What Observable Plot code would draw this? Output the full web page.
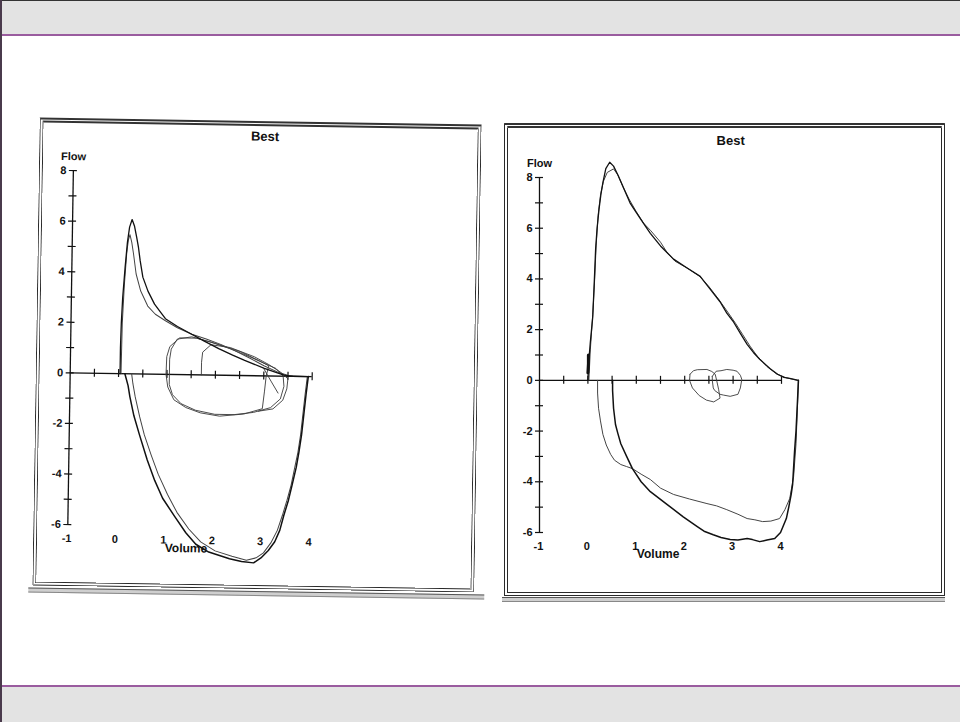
<!DOCTYPE html>
<html>
<head>
<meta charset="utf-8">
<script src="https://cdn.jsdelivr.net/npm/d3@7"></script>
<script src="https://cdn.jsdelivr.net/npm/@observablehq/plot@0.6"></script>
<style>
  html, body { margin: 0; padding: 0; }
  body { width: 960px; height: 722px; position: relative; overflow: hidden; background: #fff; font-family: "Liberation Sans", Arial, sans-serif; }
  .band { position: absolute; left: 0; width: 960px; background: #e3e3e3; box-sizing: border-box; }
  #topband { top: 0; height: 36px; border-top: 1px solid #333; border-bottom: 2px solid #9a5c9f; }
  #botband { top: 685px; height: 37px; border-top: 2px solid #9a5c9f; }
  #leftedge { position: absolute; left: 0; top: 0; width: 2px; height: 722px; background: #4a3a4c; }
  .panel { position: absolute; }
  .frame { position: absolute; box-sizing: border-box; border: 4px double #2a2a2a; border-top: 5px double #333; }
  .shadow { position: absolute; box-sizing: border-box; border-top: 1px solid #555; border-bottom: 1px solid #888; background: #cfcfcf; height: 5px; }
  .panel svg { position: absolute; left: 0; top: 0; }
</style>
</head>
<body>
<div id="topband" class="band"></div>
<div id="botband" class="band"></div>
<div id="leftedge"></div>
<div id="leftPanel" class="panel" style="left:36px;top:121px;width:442px;height:468px;transform:rotate(0.9deg);transform-origin:50% 50%;">
  <div class="frame" style="left:0;top:0;width:442px;height:468px;"></div>
  <div class="shadow" style="left:-4px;top:470px;width:456px;"></div>
</div>
<div id="rightPanel" class="panel" style="left:504px;top:123px;width:441px;height:473px;">
  <div class="frame" style="left:0;top:0;width:441px;height:473px;"></div>
  <div class="shadow" style="left:-2px;top:474px;width:443px;"></div>
</div>
<script>
// ---------- axis definitions ----------
const yTicks = [-6, -5, -4, -3, -2, -1, 0, 1, 2, 3, 4, 5, 6, 7, 8];
const yLabels = [8, 6, 4, 2, 0, -2, -4, -6];
const xTicks = [-0.5, 0, 0.5, 1, 1.5, 2, 2.5, 3, 3.5, 4];
const xLabels = [-1, 0, 1, 2, 3, 4];
const panelTitle = "Best";
const yTitle = "Flow";
const xTitle = "Volume";

// ---------- left panel: [volume, flow] ----------
const leftExpA = [[0.03,0],[0.03,1.0],[0.04,2.0],[0.06,3.0],[0.1,4.2],[0.14,5.2],[0.18,5.8],[0.23,6.1],[0.28,5.85],[0.33,5.4],[0.37,5.0],[0.41,4.47],[0.47,3.83],[0.58,3.28],[0.72,2.77],[0.85,2.45],[0.95,2.2],[1.2,1.9],[1.44,1.66],[1.75,1.35],[2.06,1.05],[2.35,0.8],[2.6,0.6],[3.01,0.3],[3.25,0.15],[3.42,0.04],[3.6,0.0],[3.92,0]];
const leftExpB = [[0.05,0],[0.06,2.0],[0.09,3.5],[0.13,4.8],[0.16,5.3],[0.19,5.5],[0.23,5.2],[0.27,4.74],[0.33,3.95],[0.43,3.28],[0.58,2.69],[0.74,2.37],[0.95,2.12],[1.2,1.85],[1.5,1.6],[1.8,1.42],[2.1,1.22],[2.4,0.97],[2.7,0.7],[3.0,0.4],[3.3,0.15],[3.5,0.03],[3.9,0]];
const leftInspA = [[3.92,0],[3.88,-0.7],[3.84,-1.5],[3.8,-2.3],[3.75,-3.0],[3.7,-3.6],[3.62,-4.3],[3.55,-4.9],[3.46,-5.5],[3.38,-6.1],[3.28,-6.55],[3.15,-6.9],[3.0,-7.2],[2.85,-7.4],[2.6,-7.35],[2.35,-7.25],[1.92,-7.0],[1.65,-6.7],[1.44,-6.25],[1.2,-5.6],[0.95,-4.9],[0.78,-4.2],[0.62,-3.4],[0.45,-2.4],[0.33,-1.66],[0.24,-0.9],[0.2,-0.47],[0.13,0]];
const leftInspB = [[3.9,0],[3.86,-0.7],[3.82,-1.5],[3.78,-2.3],[3.73,-3.0],[3.67,-3.6],[3.6,-4.3],[3.52,-4.9],[3.43,-5.5],[3.33,-6.1],[3.2,-6.6],[3.05,-7.0],[2.9,-7.2],[2.7,-7.3],[2.4,-7.15],[2.05,-6.95],[1.75,-6.6],[1.5,-6.1],[1.25,-5.45],[1.05,-4.75],[0.85,-3.95],[0.7,-3.2],[0.55,-2.4],[0.45,-1.7],[0.35,-0.9],[0.3,-0.4],[0.27,0]];
const leftTidal1 = [[1.05,0],[1.05,0.6],[1.08,1.0],[1.2,1.4],[1.5,1.5],[1.9,1.3],[2.3,1.05],[2.7,0.75],[3.0,0.5],[3.25,0.3],[3.4,0.0],[3.42,-0.4],[3.35,-0.9],[3.15,-1.25],[2.8,-1.45],[2.4,-1.55],[2.0,-1.55],[1.6,-1.4],[1.3,-1.15],[1.12,-0.8],[1.05,-0.4],[1.05,0]];
const leftTidal2 = [[0.98,0],[0.99,0.7],[1.05,1.1],[1.25,1.45],[1.6,1.45],[2.0,1.25],[2.5,0.95],[2.9,0.6],[3.1,0.4],[3.05,0.0],[3.02,-0.6],[2.98,-1.3],[2.6,-1.52],[2.1,-1.62],[1.7,-1.5],[1.4,-1.3],[1.15,-1.0],[1.02,-0.5],[0.98,0]];
const leftTidal3 = [[1.71,0],[1.71,0.5],[1.73,0.9],[1.9,1.2],[2.3,1.1],[2.8,0.75],[3.1,0.45],[3.35,0.15],[3.5,-0.1],[3.48,-0.5],[3.4,-0.95],[3.2,-1.3],[2.9,-1.4]];
const leftTidal4 = [[3.0,0.28],[3.15,-0.2],[3.3,-0.67]];

// ---------- right panel: [volume, flow] ----------
const rightExpA = [[0.0,0],[0.02,0.8],[0.05,1.5],[0.1,2.5],[0.13,3.8],[0.16,5.2],[0.19,6.0],[0.23,6.75],[0.27,7.35],[0.31,7.8],[0.37,8.35],[0.45,8.6],[0.53,8.45],[0.62,8.1],[0.7,7.75],[0.78,7.4],[0.87,7.0],[0.95,6.76],[1.09,6.36],[1.29,5.8],[1.5,5.3],[1.77,4.78],[2.05,4.43],[2.32,4.1],[2.59,3.44],[2.73,3.1],[2.87,2.65],[3.0,2.33],[3.15,1.85],[3.29,1.42],[3.42,1.1],[3.55,0.83],[3.76,0.47],[3.92,0.24],[4.05,0.12],[4.17,0.08],[4.35,0]];
const rightExpB = [[0.02,0],[0.05,1.2],[0.1,2.6],[0.14,4.0],[0.17,5.3],[0.21,6.5],[0.26,7.3],[0.32,7.85],[0.4,8.2],[0.53,8.34],[0.62,8.1],[0.72,7.65],[0.85,7.15],[1.0,6.65],[1.15,6.2],[1.3,5.9],[1.5,5.45],[1.65,5.0],[1.8,4.7],[2.05,4.43],[2.3,4.12],[2.5,3.7],[2.7,3.2],[2.85,2.8],[3.05,2.25],[3.2,1.8],[3.35,1.35],[3.5,0.95],[3.7,0.55],[3.9,0.25],[4.1,0.1],[4.33,0]];
const rightInspA = [[4.35,0],[4.33,-0.83],[4.3,-2.0],[4.27,-2.8],[4.23,-4.1],[4.2,-4.5],[4.15,-5.0],[4.1,-5.45],[3.98,-6.0],[3.86,-6.24],[3.7,-6.3],[3.55,-6.36],[3.4,-6.28],[3.29,-6.24],[3.1,-6.3],[2.94,-6.28],[2.75,-6.2],[2.59,-6.09],[2.4,-5.95],[2.26,-5.77],[1.97,-5.38],[1.64,-4.9],[1.29,-4.39],[1.1,-4.0],[0.92,-3.48],[0.8,-3.0],[0.68,-2.5],[0.62,-2.1],[0.57,-1.74],[0.53,-1.1],[0.51,-0.4],[0.51,0]];
const rightInspB = [[4.35,0],[4.33,-1.0],[4.3,-2.5],[4.25,-3.8],[4.17,-4.66],[4.07,-5.1],[3.96,-5.45],[3.78,-5.55],[3.61,-5.57],[3.45,-5.5],[3.29,-5.45],[3.1,-5.28],[2.87,-5.1],[2.66,-4.95],[2.46,-4.86],[2.1,-4.68],[1.77,-4.5],[1.5,-4.25],[1.29,-3.91],[1.1,-3.7],[0.92,-3.48],[0.8,-3.4],[0.68,-3.32],[0.55,-3.15],[0.47,-2.92],[0.38,-2.55],[0.31,-2.13],[0.26,-1.6],[0.22,-1.1],[0.2,-0.5],[0.2,0]];
const rightTidal1 = [[2.11,0.24],[2.18,0.38],[2.26,0.42],[2.46,0.43],[2.56,0.35],[2.63,0.24],[2.66,0.0],[2.7,-0.35],[2.73,-0.7],[2.6,-0.85],[2.45,-0.78],[2.3,-0.6],[2.16,-0.3],[2.1,0.0],[2.11,0.24]];
const rightTidal2 = [[2.57,0.16],[2.65,0.36],[2.75,0.38],[2.87,0.43],[3.0,0.4],[3.08,0.36],[3.15,0.2],[3.18,0.04],[3.15,-0.3],[3.1,-0.55],[2.94,-0.63],[2.8,-0.58],[2.73,-0.55],[2.62,-0.4],[2.59,-0.3],[2.57,0.0],[2.57,0.16]];
const rightBlob = [[0.0,0.3],[0.01,0.65],[0.01,1.0]];

// ---------- builder ----------
function panel(opts) {
  const L = (data, stroke, sw) => Plot.line(data, {x: d => d[0], y: d => d[1], stroke, strokeWidth: sw, curve: "linear", strokeLinejoin: "round"});
  return Plot.plot({
    width: opts.width, height: opts.height,
    marginLeft: opts.ml, marginRight: opts.mr, marginTop: opts.mt, marginBottom: opts.mb,
    x: {domain: [-1, 4], axis: null},
    y: {domain: [-6, 8], axis: null},
    style: {fontFamily: "'Liberation Sans', Arial, sans-serif", fontSize: "11px", fontWeight: "bold", background: "transparent", overflow: "visible", color: "#111"},
    marks: [
      // axes
      Plot.ruleX([-1], {y1: () => -6, y2: () => 8, stroke: "#111", strokeWidth: 1.3}),
      Plot.ruleY([0], {x1: () => -1, x2: () => 4, stroke: "#111", strokeWidth: 1.3}),
      Plot.ruleY(yTicks, {x1: () => -1, x2: () => -1, insetLeft: -4, insetRight: -4, stroke: "#111", strokeWidth: 1.2}),
      Plot.ruleX(xTicks, {y1: () => 0, y2: () => 0, insetTop: -4, insetBottom: -4, stroke: "#111", strokeWidth: 1.2}),
      Plot.text(yLabels, {x: () => -1, y: d => d, text: d => String(d), textAnchor: "end", dx: -7, fill: "#111"}),
      Plot.text(xLabels, {x: d => d, y: () => -6, text: d => String(d), dy: 14, dx: -1, fill: "#111"}),
      Plot.text([yTitle], {x: () => -1, y: () => 8, text: d => d, dy: -14, fontSize: 11, fill: "#111"}),
      Plot.text([xTitle], {x: () => 1.45, y: () => -6, text: d => d, dy: 22, fontSize: 12, fill: "#111"}),
      Plot.text([panelTitle], {x: () => 2.95, y: () => 8, text: d => d, dy: -37, fontSize: 13, fill: "#111"}),
      // curves
      ...opts.tidal.map(t => L(t, "#3a3a3a", 0.9)),
      L(opts.expB, "#444", 1.0),
      L(opts.inspB, "#444", 1.0),
      L(opts.expA, "#111", 1.3),
      L(opts.inspA, "#111", 1.5),
      ...(opts.extra || []).map(t => L(t, "#111", 3))
    ]
  });
}

const left = panel({
  width: 442, height: 468, ml: 34, mr: 166, mt: 52, mb: 62,
  expA: leftExpA, expB: leftExpB, inspA: leftInspA, inspB: leftInspB,
  tidal: [leftTidal1, leftTidal2, leftTidal3, leftTidal4]
});
document.getElementById("leftPanel").appendChild(left);

const right = panel({
  width: 441, height: 473, ml: 35, mr: 164, mt: 54, mb: 64,
  expA: rightExpA, expB: rightExpB, inspA: rightInspA, inspB: rightInspB,
  tidal: [rightTidal1, rightTidal2], extra: [rightBlob]
});
document.getElementById("rightPanel").appendChild(right);
</script>
</body>
</html>
